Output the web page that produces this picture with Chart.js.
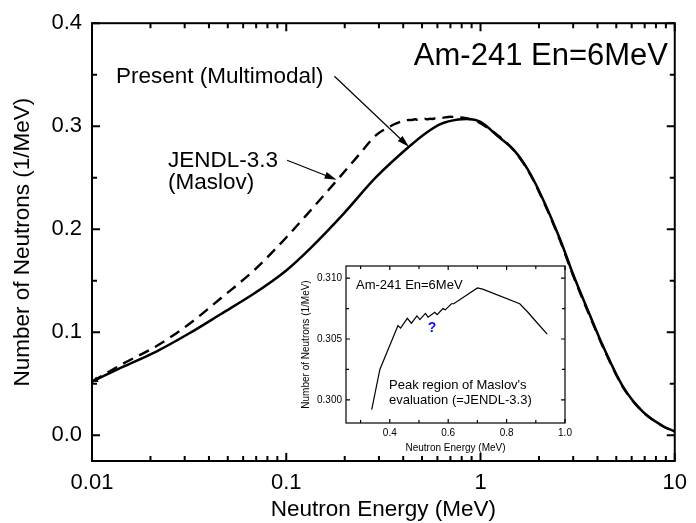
<!DOCTYPE html>
<html>
<head>
<meta charset="utf-8">
<title>Am-241 En=6MeV</title>
<script src="https://cdn.jsdelivr.net/npm/chart.js@4/dist/chart.umd.min.js"></script>
<style>
  html, body { margin: 0; padding: 0; background: #fff; }
  #wrap { position: relative; width: 696px; height: 523px; }
  #main { position: absolute; left: 0; top: 0; }
  #inset { position: absolute; left: 288px; top: 256px; }
</style>
</head>
<body>
<div id="wrap">
  <canvas id="main" width="696" height="523"></canvas>
  <canvas id="inset" width="290" height="200"></canvas>
</div>
<script>
document.addEventListener('DOMContentLoaded', function () {

	'use strict';

	// Present (Multimodal) - solid line
	const presentE = [0.01, 0.0144, 0.0213, 0.0314, 0.0464, 0.0686, 0.1, 0.133, 0.196, 0.29, 0.428, 0.52, 0.63, 0.767, 0.85,
		1.0, 1.225, 1.49, 1.75, 2.03, 2.57, 3.0, 3.65, 4.26, 5.38, 6.8, 8.59, 10];
	const presentN = [0.052, 0.0663, 0.081, 0.0985, 0.118, 0.1378, 0.160, 0.1815, 0.2145, 0.2505, 0.280, 0.293, 0.3025, 0.3065, 0.307,
		0.3042, 0.2905, 0.2765, 0.258, 0.2347, 0.190, 0.156, 0.117, 0.087, 0.048, 0.0235, 0.0095, 0.0035];

	// JENDL-3.3 (Maslov) - dashed line
	const jendlE = [0.01, 0.0144, 0.0213, 0.0314, 0.0464, 0.0686, 0.1, 0.133, 0.178, 0.238, 0.29,
		0.338, 0.366, 0.428, 0.437, 0.46, 0.474, 0.493, 0.503, 0.522, 0.531, 0.554, 0.562, 0.582, 0.59, 0.611, 0.619,
		0.70, 0.718, 0.845, 0.873, 0.902, 0.939,
		1.225, 1.49, 1.75, 2.03, 2.57, 3.0, 3.65, 4.26, 5.38, 6.8, 8.59, 10];
	const jendlN = [0.052, 0.0693, 0.0862, 0.1075, 0.1335, 0.1605, 0.192, 0.218, 0.2452, 0.2728, 0.2913,
		0.2992, 0.3025, 0.3061, 0.3059, 0.3067, 0.3063, 0.3069, 0.3066, 0.3071, 0.3068, 0.3072, 0.307, 0.3075, 0.3074, 0.3079, 0.3079,
		0.3092, 0.3091, 0.3079, 0.3072, 0.3064, 0.3054,
		0.2912, 0.2762, 0.2575, 0.2338, 0.1888, 0.1548, 0.1158, 0.0862, 0.0475, 0.0232, 0.0093, 0.0033];

	// tick labels
	const mainXTicks = [0.01, 0.1, 1, 10];
	const mainXLabels = ['0.01', '0.1', '1', '10'];
	const mainYTicks = [0, 0.1, 0.2, 0.3, 0.4];
	const mainYLabels = ['0.0', '0.1', '0.2', '0.3', '0.4'];
	const insetXTicks = [0.4, 0.6, 0.8, 1.0];
	const insetXLabels = ['0.4', '0.6', '0.8', '1.0'];
	const insetYTicks = [0.300, 0.305, 0.310];
	const insetYLabels = ['0.300', '0.305', '0.310'];

	const FONT = "'Liberation Sans', Arial, Helvetica, sans-serif";
	Chart.defaults.font.family = FONT;
	Chart.defaults.color = '#000';

	const toXY = (xs, ys) => xs.map((x, i) => ({ x: x, y: ys[i] }));

	// boxed frame with inward ticks on all four sides
	const frameTicks = {
		id: 'frameTicks',
		afterDraw(chart, args, o) {
			const { ctx, chartArea: a, scales: { x, y } } = chart;
			ctx.save();
			ctx.strokeStyle = '#000';
			ctx.lineWidth = o.lineWidth;
			ctx.beginPath();
			const xt = (vals, len) => vals.forEach(v => {
				const px = x.getPixelForValue(v);
				if (px < a.left - 0.5 || px > a.right + 0.5) return;
				ctx.moveTo(px, a.bottom); ctx.lineTo(px, a.bottom - len);
				ctx.moveTo(px, a.top); ctx.lineTo(px, a.top + len);
			});
			const yt = (vals, len) => vals.forEach(v => {
				const py = y.getPixelForValue(v);
				if (py < a.top - 0.5 || py > a.bottom + 0.5) return;
				ctx.moveTo(a.left, py); ctx.lineTo(a.left + len, py);
				ctx.moveTo(a.right, py); ctx.lineTo(a.right - len, py);
			});
			xt(o.xMajor, o.major); xt(o.xMinor, o.minor);
			yt(o.yMajor, o.major); yt(o.yMinor, o.minor);
			ctx.stroke();
			ctx.strokeRect(a.left, a.top, a.right - a.left, a.bottom - a.top);
			ctx.restore();
		}
	};

	function arrow(ctx, x1, y1, x2, y2, len, half) {
		const ang = Math.atan2(y2 - y1, x2 - x1);
		ctx.beginPath();
		ctx.moveTo(x1, y1);
		ctx.lineTo(x2 - Math.cos(ang) * len * 0.8, y2 - Math.sin(ang) * len * 0.8);
		ctx.stroke();
		ctx.beginPath();
		ctx.moveTo(x2, y2);
		ctx.lineTo(x2 - Math.cos(ang) * len - Math.sin(ang) * half, y2 - Math.sin(ang) * len + Math.cos(ang) * half);
		ctx.lineTo(x2 - Math.cos(ang) * len + Math.sin(ang) * half, y2 - Math.sin(ang) * len - Math.cos(ang) * half);
		ctx.closePath();
		ctx.fill();
	}

	// labels and arrows of the main plot
	const mainNotes = {
		id: 'mainNotes',
		afterDraw(chart) {
			const { ctx, scales: { x, y } } = chart;
			ctx.save();
			ctx.fillStyle = '#000';
			ctx.strokeStyle = '#000';
			ctx.textBaseline = 'alphabetic';
			ctx.font = '31px ' + FONT;
			ctx.textAlign = 'right';
			ctx.fillText('Am-241 En=6MeV', 668, 65);
			ctx.textAlign = 'left';
			ctx.font = '22.5px ' + FONT;
			ctx.fillText('Present (Multimodal)', 116, 83);
			ctx.fillText('JENDL-3.3', 168, 167);
			ctx.fillText('(Maslov)', 168, 189);
			ctx.lineWidth = 1.2;
			arrow(ctx, x.getPixelForValue(0.177), y.getPixelForValue(0.3485),
				x.getPixelForValue(0.428), y.getPixelForValue(0.280), 12, 3.5);
			arrow(ctx, x.getPixelForValue(0.101), y.getPixelForValue(0.267),
				x.getPixelForValue(0.1816), y.getPixelForValue(0.248), 12, 3.5);
			// small tip at the left end of the curves
			arrow(ctx, x.getPixelForValue(0.0107), y.getPixelForValue(0.0545),
				x.getPixelForValue(0.01), y.getPixelForValue(0.052), 6, 3);
			ctx.restore();
		}
	};

	const insetNotes = {
		id: 'insetNotes',
		afterDraw(chart) {
			const ctx = chart.ctx;
			ctx.save();
			ctx.fillStyle = '#000';
			ctx.textAlign = 'left';
			ctx.textBaseline = 'alphabetic';
			ctx.font = '13px ' + FONT;
			ctx.fillText('Am-241 En=6MeV', 68, 33);
			ctx.fillText("Peak region of Maslov's", 101, 133);
			ctx.fillText('evaluation (=JENDL-3.3)', 101, 148);
			ctx.fillStyle = '#1010f0';
			ctx.font = 'bold 14px ' + FONT;
			ctx.textAlign = 'center';
			ctx.textBaseline = 'middle';
			ctx.fillText('?', 144, 72);
			ctx.restore();
		}
	};

	const mainXMinor = [];
	[0.01, 0.1, 1].forEach(d => { for (let k = 2; k <= 9; k++) mainXMinor.push(d * k); });

	new Chart(document.getElementById('main'), {
		type: 'line',
		data: {
			datasets: [{
				label: 'Present (Multimodal)',
				data: toXY(presentE, presentN),
				borderColor: '#000',
				borderWidth: 2.5,
				pointRadius: 0,
				cubicInterpolationMode: 'monotone',
				fill: false
			}, {
				label: 'JENDL-3.3 (Maslov)',
				data: toXY(jendlE, jendlN),
				borderColor: '#000',
				borderWidth: 2.4,
				borderDash: [11, 7],
				pointRadius: 0,
				cubicInterpolationMode: 'monotone',
				fill: false
			}]
		},
		options: {
			responsive: false,
			animation: false,
			events: [],
			layout: { padding: { left: 0, top: 23, right: 12, bottom: 0 } },
			plugins: {
				legend: { display: false },
				tooltip: { enabled: false },
				frameTicks: {
					lineWidth: 2, major: 8, minor: 5,
					xMajor: mainXTicks, xMinor: mainXMinor,
					yMajor: mainYTicks, yMinor: [0.05, 0.15, 0.25, 0.35]
				}
			},
			scales: {
				x: {
					type: 'logarithmic',
					min: 0.01,
					max: 10,
					grid: { display: false, drawTicks: false },
					border: { display: false },
					afterBuildTicks: s => { s.ticks = mainXTicks.map(v => ({ value: v })); },
					afterFit: s => { s.height = 62; },
					ticks: {
						autoSkip: false, maxRotation: 0, padding: 9,
						font: { size: 22 },
						callback: (v, i) => mainXLabels[i]
					},
					title: { display: true, text: 'Neutron Energy (MeV)', font: { size: 22.5 }, padding: 0 }
				},
				y: {
					min: -0.025,
					max: 0.4,
					grid: { display: false, drawTicks: false },
					border: { display: false },
					afterBuildTicks: s => { s.ticks = mainYTicks.map(v => ({ value: v })); },
					afterFit: s => { s.width = 92; },
					ticks: {
						padding: 10,
						font: { size: 22 },
						callback: (v, i) => mainYLabels[i]
					},
					title: { display: true, text: 'Number of Neutrons (1/MeV)', font: { size: 22.5 }, padding: { top: 9, bottom: 0 } }
				}
			}
		},
		plugins: [frameTicks, mainNotes]
	});

	// inset: peak region of Maslov's evaluation
	const peakE = jendlE.filter(e => e > 0.33 && e < 0.95);
	const peakN = jendlN.filter((n, i) => jendlE[i] > 0.33 && jendlE[i] < 0.95);

	new Chart(document.getElementById('inset'), {
		type: 'line',
		data: {
			datasets: [{
				label: 'JENDL-3.3',
				data: toXY(peakE, peakN),
				borderColor: '#000',
				borderWidth: 1.2,
				pointRadius: 0,
				tension: 0,
				fill: false
			}]
		},
		options: {
			responsive: false,
			animation: false,
			events: [],
			layout: { padding: { left: 0, top: 10, right: 13, bottom: 0 } },
			plugins: {
				legend: { display: false },
				tooltip: { enabled: false },
				frameTicks: {
					lineWidth: 1.2, major: 4, minor: 3,
					xMajor: insetXTicks, xMinor: [0.3, 0.5, 0.7, 0.9],
					yMajor: insetYTicks, yMinor: [0.3025, 0.3075]
				}
			},
			scales: {
				x: {
					type: 'linear',
					min: 0.25,
					max: 1.0,
					grid: { display: false, drawTicks: false },
					border: { display: false },
					afterBuildTicks: s => { s.ticks = insetXTicks.map(v => ({ value: v })); },
					afterFit: s => { s.height = 33; },
					ticks: {
						autoSkip: false, maxRotation: 0, padding: 4,
						font: { size: 10 },
						callback: (v, i) => insetXLabels[i]
					},
					title: { display: true, text: 'Neutron Energy (MeV)', font: { size: 10 }, padding: 2 }
				},
				y: {
					min: 0.2981,
					max: 0.311,
					grid: { display: false, drawTicks: false },
					border: { display: false },
					afterBuildTicks: s => { s.ticks = insetYTicks.map(v => ({ value: v })); },
					afterFit: s => { s.width = 58; },
					ticks: {
						padding: 4,
						font: { size: 10 },
						callback: (v, i) => insetYLabels[i]
					},
					title: { display: true, text: 'Number of Neutrons (1/MeV)', font: { size: 10 }, padding: { top: 12, bottom: 0 } }
				}
			}
		},
		plugins: [frameTicks, insetNotes]
	});

}); // DOMContentLoaded
</script>
</body>
</html>
